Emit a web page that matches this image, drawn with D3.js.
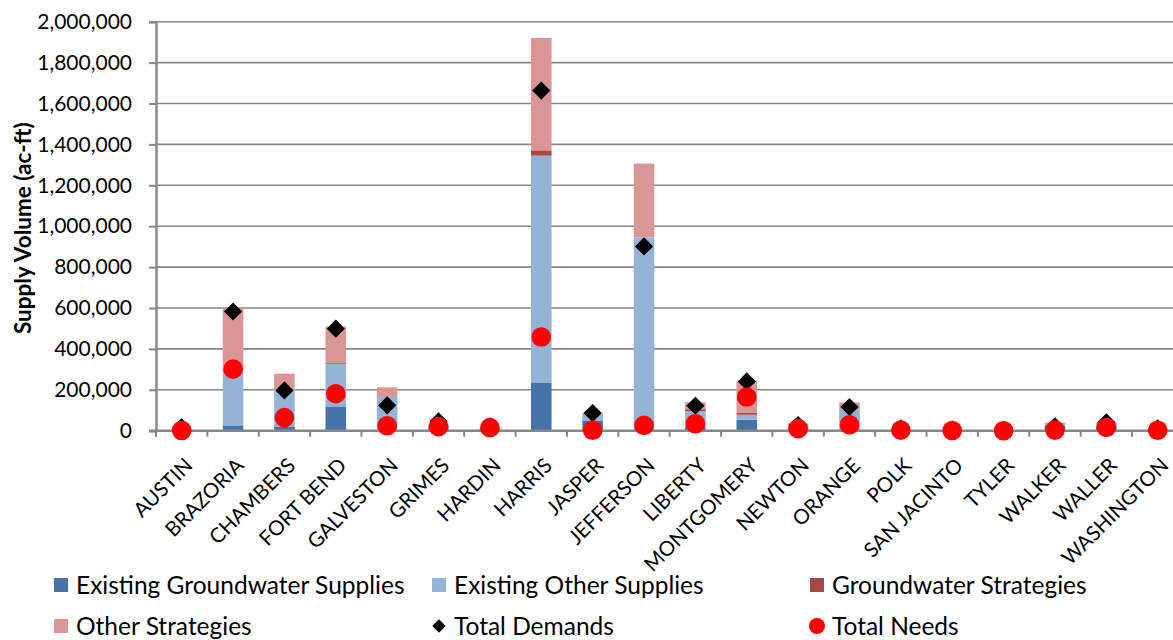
<!DOCTYPE html>
<html>
<head>
<meta charset="utf-8">
<script src="https://cdn.jsdelivr.net/npm/d3@7"></script>
<style>
  html, body { margin: 0; padding: 0; background: #fff; }
  svg { display: block; font-family: Lato, "Liberation Sans", sans-serif; }
</style>
</head>
<body>
<svg id="chart" width="1173" height="640"></svg>
<script>
// Counties in the region
const counties = ["AUSTIN", "BRAZORIA", "CHAMBERS", "FORT BEND", "GALVESTON", "GRIMES", "HARDIN",
  "HARRIS", "JASPER", "JEFFERSON", "LIBERTY", "MONTGOMERY", "NEWTON", "ORANGE", "POLK",
  "SAN JACINTO", "TYLER", "WALKER", "WALLER", "WASHINGTON"];

// Supplies and strategies (ac-ft), stacked in this order
const existingGroundwater = [5000, 26000, 21000, 119000, 5000, 12000, 10000, 236000, 50000, 3000,
  20000, 53000, 15000, 5000, 3000, 2000, 2000, 25000, 22000, 6000];
const existingOther = [2000, 274000, 183000, 207000, 160000, 3000, 5000, 1109000, 36000, 942000,
  76000, 25000, 8000, 95000, 2000, 1000, 1000, 8000, 5000, 3000];
const groundwaterStrategies = [0, 3000, 0, 4000, 0, 5000, 0, 26000, 0, 0,
  9000, 11000, 0, 3000, 0, 0, 0, 0, 2000, 0];
const otherStrategies = [1000, 297000, 75000, 180000, 47000, 10000, 3000, 549000, 0, 361000,
  34000, 155000, 13000, 35000, 0, 0, 0, 6000, 10000, 0];

// Point series (ac-ft)
const totalDemands = [17000, 583000, 197000, 499000, 124000, 46000, 20000, 1663000, 86000, 901000,
  122000, 241000, 28000, 116000, 12000, 6000, 5000, 21000, 41000, 12000];
const totalNeeds = [1000, 301000, 64000, 181000, 24000, 20000, 15000, 458000, 2000, 26000,
  34000, 165000, 10000, 29000, 3000, 1000, 0, 3000, 16000, 2000];

const seriesNames = ["Existing Groundwater Supplies", "Existing Other Supplies",
  "Groundwater Strategies", "Other Strategies"];
const seriesColors = ["#4572A7", "#95B3D7", "#A94744", "#D99694"];
const yTicks = [0, 200000, 400000, 600000, 800000, 1000000, 1200000, 1400000, 1600000, 1800000, 2000000];

const svg = d3.select("#chart");
const plot = { left: 156, top: 21.7, width: 1027.4, height: 409 };

const x = d3.scaleBand().domain(counties).range([plot.left, plot.left + plot.width])
  .paddingInner(0.6).paddingOuter(0.3);
const xBand = d3.scaleBand().domain(counties).range([plot.left, plot.left + plot.width]);
const y = d3.scaleLinear().domain([0, 2000000]).range([plot.top + plot.height, plot.top]);

const fmt = d3.format(",");
const grid = "#878787";

// Horizontal gridlines
svg.append("g").selectAll("line").data(yTicks.slice(1)).join("line")
  .attr("x1", plot.left).attr("x2", plot.left + plot.width)
  .attr("y1", d => y(d)).attr("y2", d => y(d))
  .attr("stroke", grid).attr("stroke-width", 1.6);

// Stacked bars
const rows = counties.map((c, i) => ({
  county: c,
  s0: existingGroundwater[i], s1: existingOther[i], s2: groundwaterStrategies[i], s3: otherStrategies[i]
}));
const stack = d3.stack().keys(["s0", "s1", "s2", "s3"])(rows);
svg.append("g").selectAll("g").data(stack).join("g")
  .attr("fill", (d, i) => seriesColors[i])
  .selectAll("rect").data(d => d).join("rect")
  .attr("x", d => x(d.data.county))
  .attr("width", x.bandwidth())
  .attr("y", d => y(d[1]))
  .attr("height", d => Math.max(0, y(d[0]) - y(d[1])));

// Y axis
const yAxis = d3.axisLeft(y).tickValues(yTicks).tickFormat(fmt).tickSize(7).tickPadding(17);
const gy = svg.append("g").attr("transform", `translate(${plot.left},0)`).call(yAxis);
gy.select(".domain").attr("stroke", grid).attr("stroke-width", 2.4);
gy.selectAll(".tick line").attr("stroke", grid).attr("stroke-width", 2);
gy.selectAll(".tick text").attr("fill", "#000").style("font-size", "21px")
  .style("font-family", "Lato, sans-serif");

// X axis (ticks sit between categories)
const x0 = plot.top + plot.height;
const boundaries = counties.map((c, i) => xBand(c)).concat([plot.left + plot.width]);
svg.append("line").attr("x1", plot.left - 7).attr("x2", plot.left + plot.width)
  .attr("y1", x0).attr("y2", x0).attr("stroke", grid).attr("stroke-width", 2.4);
svg.append("g").selectAll("line").data(boundaries).join("line")
  .attr("x1", d => d).attr("x2", d => d).attr("y1", x0).attr("y2", x0 + 6)
  .attr("stroke", grid).attr("stroke-width", 2);

svg.append("g").selectAll("text").data(counties).join("text")
  .attr("transform", d => `translate(${xBand(d) + xBand.bandwidth() / 2 + 7},${x0 + 31}) rotate(-45)`)
  .attr("text-anchor", "end").attr("dy", "0.35em")
  .style("font-size", "20.5px").text(d => d);

// Total demands (diamonds)
const diamond = d3.symbol().type(d3.symbolSquare).size(165);
svg.append("g").selectAll("path").data(totalDemands).join("path")
  .attr("d", diamond)
  .attr("transform", (d, i) => `translate(${xBand(counties[i]) + xBand.bandwidth() / 2},${y(d)}) rotate(45)`)
  .attr("fill", "#000");

// Total needs (circles)
svg.append("g").selectAll("circle").data(totalNeeds).join("circle")
  .attr("cx", (d, i) => xBand(counties[i]) + xBand.bandwidth() / 2)
  .attr("cy", d => y(d)).attr("r", 9.8).attr("fill", "#FF0000");

// Y axis title
svg.append("text")
  .attr("transform", `translate(31,${plot.top + plot.height / 2 + 2}) rotate(-90)`)
  .attr("text-anchor", "middle")
  .style("font-size", "22.5px").style("font-weight", "bold")
  .text("Supply Volume (ac-ft)");

// Legend
const legendItems = [
  { name: seriesNames[0], kind: "rect", color: seriesColors[0] },
  { name: seriesNames[1], kind: "rect", color: seriesColors[1] },
  { name: seriesNames[2], kind: "rect", color: seriesColors[2] },
  { name: seriesNames[3], kind: "rect", color: seriesColors[3] },
  { name: "Total Demands", kind: "diamond", color: "#000" },
  { name: "Total Needs", kind: "circle", color: "#FF0000" }
];
const colX = [54, 432, 810];
const rowY = [585, 626];
const lg = svg.append("g").selectAll("g").data(legendItems).join("g")
  .attr("transform", (d, i) => `translate(${colX[i % 3]},${rowY[Math.floor(i / 3)]})`);
lg.each(function (d) {
  const g = d3.select(this);
  if (d.kind === "rect") {
    g.append("rect").attr("x", 0).attr("y", -7).attr("width", 14).attr("height", 14).attr("fill", d.color);
  } else if (d.kind === "diamond") {
    g.append("path").attr("d", d3.symbol().type(d3.symbolSquare).size(90)())
      .attr("transform", "translate(7,0) rotate(45)").attr("fill", d.color);
  } else {
    g.append("circle").attr("cx", 7).attr("cy", 0).attr("r", 8).attr("fill", d.color);
  }
  g.append("text").attr("x", 22).attr("dy", "0.35em").style("font-size", "24.5px").text(d.name);
});
</script>
</body>
</html>
